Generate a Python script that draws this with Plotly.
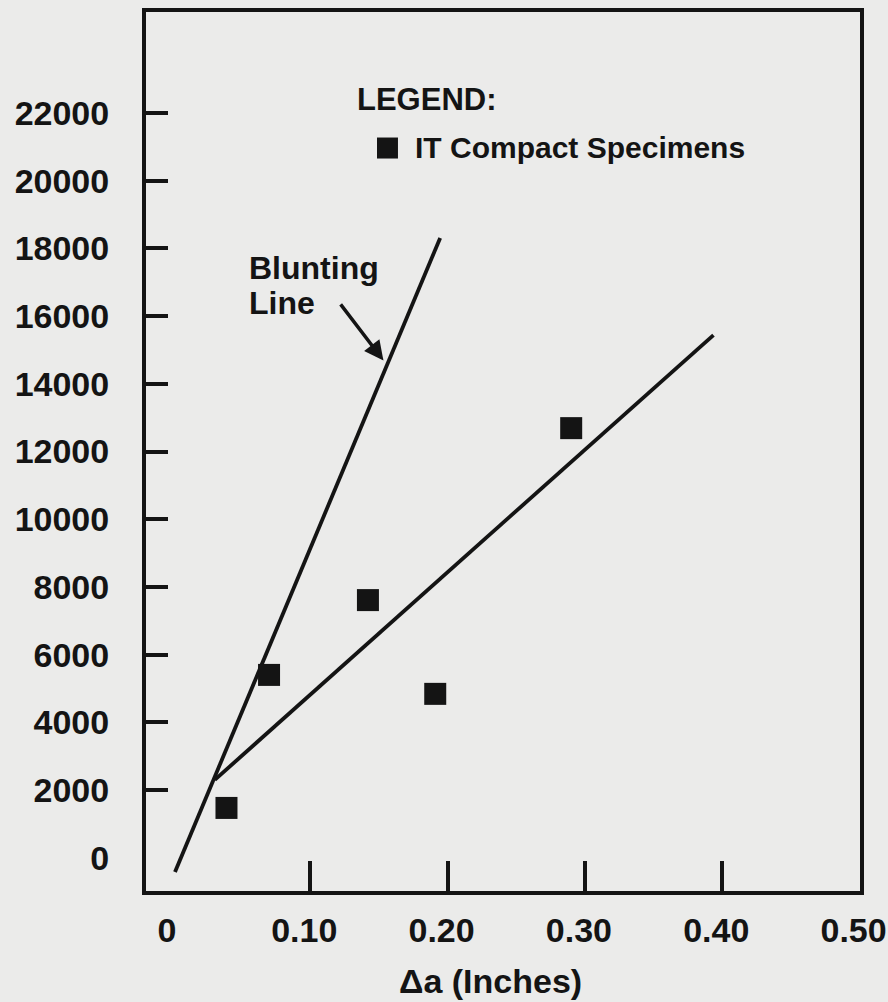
import plotly.graph_objects as go

# Data
specimen_da = [0.039, 0.070, 0.142, 0.191, 0.290]
specimen_j = [1470, 5400, 7610, 4840, 12690]

blunting_da = [0.0015, 0.1946]
blunting_j = [-420, 18310]

fit_da = [0.0305, 0.3936]
fit_j = [2300, 15440]

x_label_vals = [0, 0.10, 0.20, 0.30, 0.40, 0.50]
x_label_text = ["0", "0.10", "0.20", "0.30", "0.40", "0.50"]
x_tick_vals = [0.10, 0.20, 0.30, 0.40]

y_label_vals = [0, 2000, 4000, 6000, 8000, 10000, 12000, 14000, 16000, 18000, 20000, 22000]
y_label_text = [str(v) for v in y_label_vals]
y_tick_vals = [2000, 4000, 6000, 8000, 10000, 12000, 14000, 16000, 18000, 20000, 22000]

X_RANGE = [-0.0196, 0.5003]
Y_RANGE = [-984, 24984]

INK = "#141414"
BG = "#ebebea"
FONT = "Liberation Sans, Arial, sans-serif"

fig = go.Figure()

fig.add_trace(go.Scatter(x=blunting_da, y=blunting_j, mode="lines",
                         line=dict(color=INK, width=3.8), showlegend=False, hoverinfo="skip"))
fig.add_trace(go.Scatter(x=fit_da, y=fit_j, mode="lines",
                         line=dict(color=INK, width=3.8), showlegend=False, hoverinfo="skip"))
fig.add_trace(go.Scatter(x=specimen_da, y=specimen_j, mode="markers",
                         marker=dict(symbol="square", size=22, color=INK, line=dict(width=0)),
                         name="IT Compact Specimens", showlegend=False))

# invisible trace to enable overlay tick axes
fig.add_trace(go.Scatter(x=[None], y=[None], xaxis="x2", yaxis="y2", showlegend=False))

tickfont = dict(family=FONT, size=34, color=INK, weight="bold")

fig.update_layout(
    width=888, height=1002,
    margin=dict(l=146, r=28, t=12, b=111),
    paper_bgcolor=BG, plot_bgcolor=BG,
    showlegend=False,
    xaxis=dict(range=X_RANGE, showgrid=False, zeroline=False,
               showline=True, linecolor=INK, linewidth=4, mirror=True,
               tickmode="array", tickvals=x_label_vals, ticktext=x_label_text,
               ticks="", tickfont=tickfont, ticklabelstandoff=6, ticklabelshift=-6,
               ticklabeloverflow="allow", automargin=False),
    yaxis=dict(range=Y_RANGE, showgrid=False, zeroline=False,
               showline=True, linecolor=INK, linewidth=4, mirror=True,
               tickmode="array", tickvals=y_label_vals, ticktext=y_label_text,
               ticks="", tickfont=tickfont, ticklabelstandoff=26,
               ticklabeloverflow="allow", automargin=False),
    xaxis2=dict(range=X_RANGE, overlaying="x", anchor="y2", side="bottom",
                showgrid=False, zeroline=False, showline=False,
                tickmode="array", tickvals=x_tick_vals, showticklabels=False,
                ticks="inside", ticklen=30, tickwidth=4, tickcolor=INK),
    yaxis2=dict(range=Y_RANGE, overlaying="y", anchor="x2", side="left",
                showgrid=False, zeroline=False, showline=False,
                tickmode="array", tickvals=y_tick_vals, showticklabels=False,
                ticks="inside", ticklen=22, tickwidth=4, tickcolor=INK),
)

annfont = dict(family=FONT, size=31, color=INK, weight="bold")

fig.add_annotation(xref="paper", yref="paper", x=0.2927, y=0.8999,
                   text="LEGEND:", showarrow=False, xanchor="left", yanchor="middle", font=annfont)
fig.add_annotation(xref="paper", yref="paper", x=0.3739, y=0.8453,
                   text="IT Compact Specimens", showarrow=False, xanchor="left", yanchor="middle",
                   font=dict(family=FONT, size=30, color=INK, weight="bold"))
fig.add_shape(type="rect", xref="paper", yref="paper", x0=0.3235, x1=0.3529, y0=0.8333, y1=0.8572,
              fillcolor=INK, line=dict(width=0))

blfont = dict(family=FONT, size=32, color=INK, weight="bold")
fig.add_annotation(x=0.0537, y=17420, text="Blunting", showarrow=False,
                   xanchor="left", yanchor="middle", font=blfont)
fig.add_annotation(x=0.0537, y=16390, text="Line", showarrow=False,
                   xanchor="left", yanchor="middle", font=blfont)
fig.add_annotation(x=0.1533, y=14690, ax=0.1213, ay=16390, axref="x", ayref="y",
                   text="", showarrow=True, arrowhead=2, arrowsize=1.1, arrowwidth=3.5,
                   arrowcolor=INK)

fig.add_annotation(xref="paper", yref="paper", x=0.4818, y=-0.1024,
                   text="Δa (Inches)", showarrow=False, xanchor="center", yanchor="middle",
                   font=dict(family=FONT, size=34, color=INK, weight="bold"))

fig.write_html("out.html")
